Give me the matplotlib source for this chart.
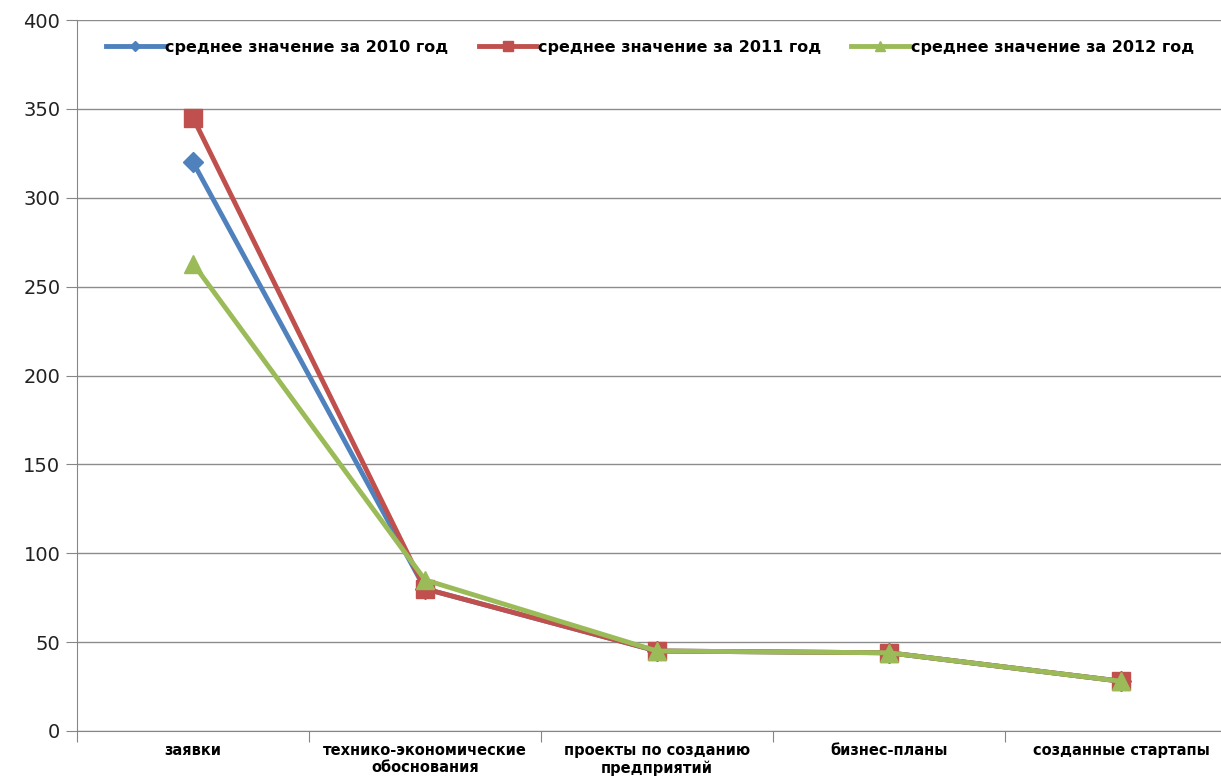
import matplotlib
matplotlib.use('Agg')
import matplotlib.pyplot as plt
import numpy as np

plt.rcParams['font.family'] = ['DejaVu Sans Condensed', 'DejaVu Sans']

# категории и средние значения по годам
categories = ['заявки', 'технико-экономические\nобоснования', 'проекты по созданию\nпредприятий',
              'бизнес-планы', 'созданные стартапы']
avg_2010 = [320, 80, 45, 44, 28]
avg_2011 = [345, 80, 45, 44, 28]
avg_2012 = [263, 85, 45, 44, 28]
series_labels = ['среднее значение за 2010 год', 'среднее значение за 2011 год', 'среднее значение за 2012 год']
y_ticks = [0, 50, 100, 150, 200, 250, 300, 350, 400]

fig = plt.figure(figsize=(12.21, 7.78), dpi=100)
ax = fig.add_axes([77 / 1221, 47 / 778, 1160 / 1221, 711 / 778])

x = np.arange(len(categories))
ax.plot(x, avg_2010, color='#4F81BD', lw=3.5, marker='D', ms=10, label=series_labels[0], zorder=3)
ax.plot(x, avg_2011, color='#C0504D', lw=3.5, marker='s', ms=13, label=series_labels[1], zorder=4)
ax.plot(x, avg_2012, color='#9BBB59', lw=3.5, marker='^', ms=13, label=series_labels[2], zorder=5)

ax.set_xlim(-0.5, len(categories) - 0.5)
ax.set_ylim(0, 400)
ax.set_yticks(y_ticks)
ax.tick_params(axis='y', labelsize=14, length=8, color='#868686', pad=4, labelcolor='#222222')
ax.grid(axis='y', color='#8c8c8c', lw=1)
ax.set_axisbelow(True)

# деления на границах категорий, подписи по центру
ax.set_xticks(np.arange(len(categories) + 1) - 0.5)
ax.set_xticklabels([])
ax.tick_params(axis='x', length=8, color='#868686')
for i, cat in enumerate(categories):
    ax.text(i, -7, cat, ha='center', va='top', fontsize=10.5, fontweight='bold',
            linespacing=1.15)

for side in ['top', 'right']:
    ax.spines[side].set_visible(False)
for side in ['left', 'bottom']:
    ax.spines[side].set_color('#868686')

leg = ax.legend(loc='center', bbox_to_anchor=(0.494, 0.962), ncol=3, frameon=False,
                prop={'weight': 'bold', 'size': 11.5}, handlelength=3.6,
                columnspacing=1.9, handletextpad=0.1, markerscale=0.55)

fig.savefig('out.png', dpi=100)
